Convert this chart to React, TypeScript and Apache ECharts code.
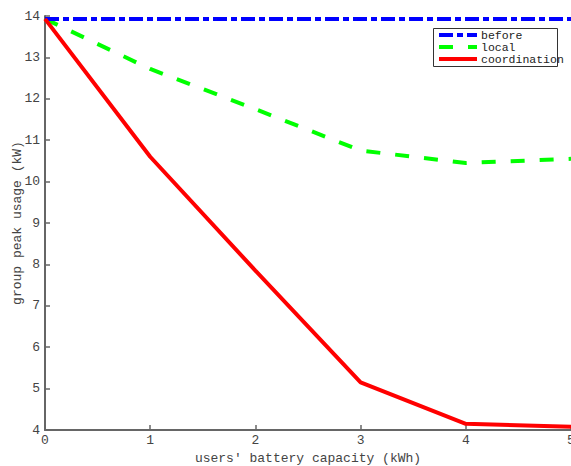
import React, { useEffect, useRef } from "react";
import * as echarts from "echarts";

const capacities = [0, 1, 2, 3, 4, 5];
const before = [13.93, 13.93, 13.93, 13.93, 13.93, 13.93];
const local = [13.93, 12.72, 11.75, 10.75, 10.45, 10.55];
const coordination = [13.93, 10.6, 7.85, 5.15, 4.15, 4.08];
const yTicks = [4, 5, 6, 7, 8, 9, 10, 11, 12, 13, 14];
const seriesNames = ["before", "local", "coordination"];
const seriesColors = ["#0000ff", "#00ff00", "#ff0000"];
const seriesDash: (number[] | null)[] = [[14, 4, 6, 4], [14, 15], null];

const FONT = "Liberation Mono";

export default function App() {
  const ref = useRef<HTMLDivElement>(null);
  useEffect(() => {
    if (!ref.current) return;
    const chart = echarts.init(ref.current, undefined, { renderer: "svg" });
    const toPairs = (arr: number[]) => capacities.map((c, i) => [c, arr[i]]);
    const datasets = [before, local, coordination];

    const legendEls: any[] = [
      {
        type: "rect",
        shape: { x: 433.5, y: 28.5, width: 124, height: 38 },
        style: { fill: "#fff", stroke: "#333", lineWidth: 1 },
        z: 10,
      },
    ];
    seriesNames.forEach((n, i) => {
      const y = 35 + i * 12;
      legendEls.push({
        type: "line",
        shape: { x1: 439, y1: y, x2: 477, y2: y },
        style: {
          stroke: seriesColors[i],
          lineWidth: 4,
          lineDash: seriesDash[i] || undefined,
        },
        z: 11,
      });
      legendEls.push({
        type: "text",
        x: 481,
        y: y,
        style: {
          text: n,
          fontFamily: FONT,
          fontSize: 11.5,
          lineHeight: 11,
          fill: "#222",
          verticalAlign: "middle",
          align: "left",
        },
        z: 11,
      });
    });

    chart.setOption({
      animation: false,
      backgroundColor: "#fff",
      textStyle: { fontFamily: FONT },
      grid: { left: 45, right: 0, top: 16, bottom: 36, outerBoundsMode: "none", containLabel: false },
      xAxis: {
        type: "value",
        min: 0,
        max: 5,
        interval: 1,
        name: "users' battery capacity (kWh)",
        nameLocation: "middle",
        nameGap: 22,
        nameTextStyle: { fontFamily: FONT, fontSize: 13, color: "#444" },
        axisLine: { show: true, lineStyle: { color: "#666", width: 2 } },
        axisTick: { show: true, inside: true, length: 5, lineStyle: { color: "#666", width: 1.5 } },
        axisLabel: { fontFamily: FONT, fontSize: 13, color: "#444", margin: 4 },
        splitLine: { show: false },
      },
      yAxis: {
        type: "value",
        min: yTicks[0],
        max: yTicks[yTicks.length - 1],
        interval: 1,
        name: "group peak usage (kW)",
        nameLocation: "middle",
        nameGap: 21,
        nameMoveOverlap: false,
        nameTextStyle: { fontFamily: FONT, fontSize: 13, color: "#444" },
        axisLine: { show: true, lineStyle: { color: "#666", width: 2 } },
        axisTick: { show: true, inside: true, length: 5, lineStyle: { color: "#666", width: 1.5 } },
        axisLabel: { fontFamily: FONT, fontSize: 13, color: "#444", margin: 5 },
        splitLine: { show: false },
      },
      graphic: legendEls,
      series: seriesNames.map((n, i) => ({
        name: n,
        type: "line",
        data: toPairs(datasets[i]),
        symbol: "none",
        lineStyle: {
          color: seriesColors[i],
          width: 4,
          type: seriesDash[i] || "solid",
        },
        itemStyle: { color: seriesColors[i] },
        z: i === 2 ? 4 : i === 0 ? 3 : 2,
      })),
    });
    return () => chart.dispose();
  }, []);
  return (
    <div
      ref={ref}
      style={{ position: "fixed", left: 0, top: 0, width: 571, height: 466 }}
    />
  );
}
